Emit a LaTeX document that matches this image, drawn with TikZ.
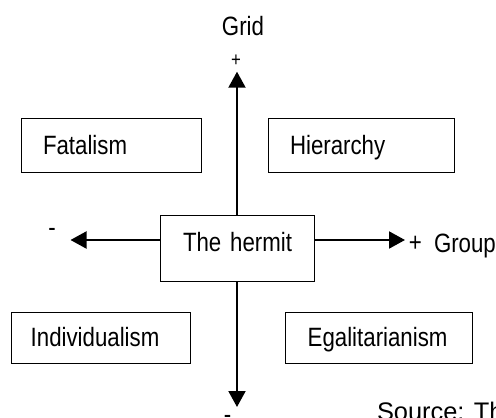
\documentclass[tikz,border=0pt]{standalone}
\usepackage{fontspec}
\setmainfont{Liberation Sans}[FakeStretch=0.84]
\newfontfamily\srcfont{Liberation Sans}
\usetikzlibrary{arrows.meta}
\begin{document}
\begin{tikzpicture}[x=1pt,y=-1pt,
  every node/.style={inner sep=0pt, outer sep=0pt},
  lbl/.style={font=\fontsize{26.5}{30}\selectfont},
  box/.style={draw, line width=1pt, lbl, align=left, inner xsep=22pt, inner ysep=0pt, anchor=north west},
  axis/.style={line width=2pt, -{Triangle[length=16pt,width=17pt]}},
]
\useasboundingbox (0,0) rectangle (496,418);
\clip (0,0) rectangle (496,418);

% boxes
\node[box, text width=136pt, text height=36pt, text depth=18pt] (fatal) at (21,118) {Fatalism};
\node[box, text width=142pt, text height=36pt, text depth=18pt] (hier) at (268,118) {Hierarchy};
\node[box, inner xsep=0pt, text width=154pt, text height=36.7pt, text depth=29.3pt] (hermit) at (160,215) {\hspace*{23pt}The hermit};
\node[box, inner xsep=19pt, text width=141pt, text height=34.7pt, text depth=16.3pt] (indiv) at (11.7,312) {Individualism};
\node[box, text width=143pt, text height=34.7pt, text depth=16.3pt] (egal) at (285.7,312) {Egalitarianism};

% axis ends
\coordinate (T) at (237,71.7);
\coordinate (B) at (237,407);
\coordinate (L) at (70.5,240);
\coordinate (R) at (405,240);

\draw[axis] (hermit.north) -- (hermit.north |- T);
\draw[axis] (hermit.south) -- (hermit.south |- B);
\draw[axis] (L -| hermit.west) -- (L);
\draw[axis] (R -| hermit.east) -- (R);

% labels
\node[lbl, anchor=base] (grid) at (243,35) {Grid};
\node[font=\fontsize{20}{24}\selectfont, anchor=base] (gplus) at (236,66.5) {+};
\node[lbl, anchor=base] (gminus) at (52,236.3) {-};
\node[lbl, anchor=base] (rplus) at (415.3,251.5) {+};
\node[lbl, anchor=base west] (group) at (434,252) {Group};
\node[lbl, anchor=base] (bminus) at (227.5,423.3) {-};
\node[font=\srcfont\fontsize{25.4}{30}\selectfont, anchor=base west] (src) at (377,420) {Source: Th};
\end{tikzpicture}
\end{document}
